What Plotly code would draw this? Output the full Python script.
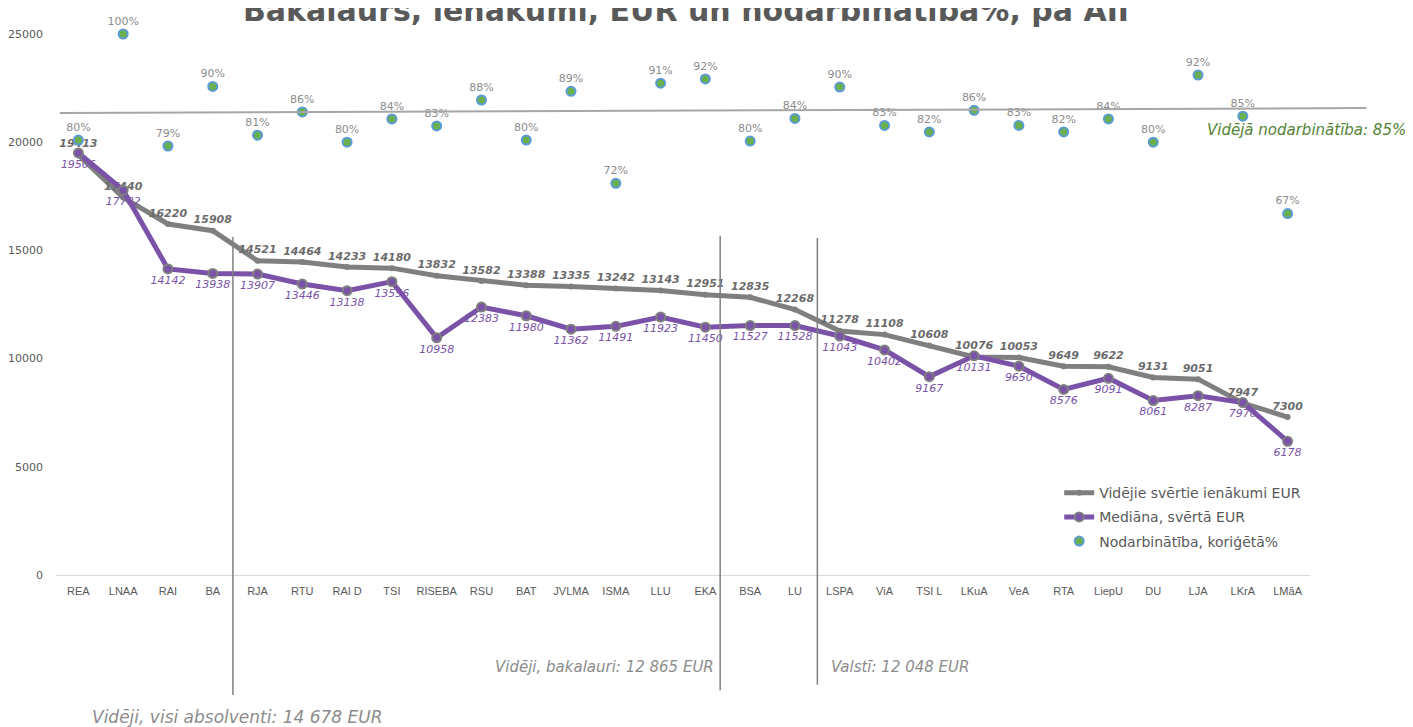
import plotly.graph_objects as go

categories = ["REA", "LNAA", "RAI", "BA", "RJA", "RTU", "RAI D", "TSI", "RISEBA", "RSU",
              "BAT", "JVLMA", "ISMA", "LLU", "EKA", "BSA", "LU", "LSPA", "ViA", "TSI L",
              "LKuA", "VeA", "RTA", "LiepU", "DU", "LJA", "LKrA", "LMāA"]

avg_income = [19413, 17440, 16220, 15908, 14521, 14464, 14233, 14180, 13832, 13582,
              13388, 13335, 13242, 13143, 12951, 12835, 12268, 11278, 11108, 10608,
              10076, 10053, 9649, 9622, 9131, 9051, 7947, 7300]

median_income = [19506, 17782, 14142, 13938, 13907, 13446, 13138, 13556, 10958, 12383,
                 11980, 11362, 11491, 11923, 11450, 11527, 11528, 11043, 10402, 9167,
                 10131, 9650, 8576, 9091, 8061, 8287, 7970, 6178]

employment = [0.804, 1.00, 0.793, 0.903, 0.813, 0.856, 0.800, 0.843, 0.830, 0.878,
              0.804, 0.894, 0.724, 0.909, 0.917, 0.802, 0.844, 0.902, 0.831, 0.819,
              0.859, 0.831, 0.819, 0.843, 0.800, 0.924, 0.848, 0.668]

avg_employment = 0.85
avg_all = "Vidēji, visi absolventi: 14 678 EUR"
avg_bach = "Vidēji, bakalauri: 12 865 EUR"
avg_country = "Valstī: 12 048 EUR"

GRAY = "#7f7f7f"
PURPLE = "#7a52a8"
TXT = "#595959"

fig = go.Figure()

fig.add_trace(go.Scatter(
    x=categories, y=avg_income, name="Vidējie svērtie ienākumi EUR",
    mode="lines+markers+text", legendgroup="a",
    line=dict(color=GRAY, width=5),
    marker=dict(color=GRAY, size=6),
    text=[str(v) for v in avg_income], textposition="top center",
    textfont=dict(family="DejaVu Sans", size=11, color="#6b6b6b", style="italic", weight="bold"),
    cliponaxis=False,
))

fig.add_trace(go.Scatter(
    x=categories, y=median_income, name="Mediāna, svērtā EUR",
    mode="lines+markers+text", legendgroup="b",
    line=dict(color=PURPLE, width=5),
    marker=dict(color=PURPLE, size=9, line=dict(color=GRAY, width=2)),
    text=[str(v) for v in median_income], textposition="bottom center",
    textfont=dict(family="DejaVu Sans", size=11, color=PURPLE, style="italic"),
    cliponaxis=False,
))

fig.add_trace(go.Scatter(
    x=categories, y=employment, name="Nodarbinātība, koriģētā%",
    mode="markers+text", yaxis="y2", legendgroup="c",
    marker=dict(color="#6ab04c", size=9, line=dict(color="#5b9bd5", width=2)),
    texttemplate="%{y:.0%}", textposition="top center",
    textfont=dict(family="DejaVu Sans", size=11, color="#8c8c8c"),
    cliponaxis=False,
))

# vertical separators for averages
for xv, y0, y1 in [(3.45, -0.222, 0.625), (14.33, -0.213, 0.627), (16.5, -0.203, 0.623)]:
    fig.add_shape(type="line", xref="x", yref="paper", x0=xv, x1=xv, y0=y0, y1=y1,
                  line=dict(color="#808080", width=1.5))

# average employment line
fig.add_shape(type="line", xref="paper", yref="y2", x0=0.003, x1=1.045,
              y0=avg_employment + 0.004, y1=avg_employment + 0.013,
              line=dict(color="#a6a6a6", width=2))

ann_font = dict(family="DejaVu Sans", size=15, color="#8c8c8c", style="italic")
fig.add_annotation(text=avg_bach, xref="x", yref="paper", x=14.24, y=-0.170,
                   xanchor="right", yanchor="middle", showarrow=False, font=ann_font)
fig.add_annotation(text=avg_country, xref="x", yref="paper", x=16.75, y=-0.170,
                   xanchor="left", yanchor="middle", showarrow=False, font=ann_font)
fig.add_annotation(text=avg_all, xref="paper", yref="paper", x=0.027, y=-0.262,
                   xanchor="left", yanchor="middle", showarrow=False,
                   font=dict(family="DejaVu Sans", size=17, color="#8c8c8c", style="italic"))
fig.add_annotation(text="Vidējā nodarbinātība: 85%", xref="paper", yref="paper",
                   x=1.078, y=0.823, xanchor="right", yanchor="middle", showarrow=False,
                   font=dict(family="DejaVu Sans", size=15, color="#548235", style="italic"))
fig.add_annotation(text="<b>Bakalaurs, ienākumi, EUR un nodarbinātība%, pa AII</b>",
                   xref="paper", yref="paper", x=0.502, y=1.044, xanchor="center",
                   yanchor="middle", showarrow=False,
                   font=dict(family="DejaVu Sans", size=30, color=TXT))

fig.update_layout(
    width=1405, height=719,
    margin=dict(l=48, r=103, t=26, b=152, autoexpand=False),
    paper_bgcolor="white", plot_bgcolor="white",
    showlegend=True,
    legend=dict(x=0.80, y=0.181, xanchor="left", yanchor="top",
                font=dict(family="DejaVu Sans", size=14, color=TXT),
                bgcolor="rgba(0,0,0,0)", tracegroupgap=3, itemwidth=30),
    xaxis=dict(type="category", categoryorder="array", categoryarray=categories,
               showgrid=False, showline=False, zeroline=False, ticks="",
               ticklabelstandoff=8, automargin=False,
               tickfont=dict(family="Liberation Sans Narrow, Liberation Sans", size=11, color=TXT),
               range=[-0.5, len(categories) - 0.5]),
    yaxis=dict(range=[0, 25000], tickvals=[0, 5000, 10000, 15000, 20000, 25000],
               tickformat="d", automargin=False,
               showgrid=False, zeroline=True, zerolinecolor="#d9d9d9", zerolinewidth=1,
               showline=False, ticks="", ticklabelstandoff=12,
               tickfont=dict(family="DejaVu Sans", size=11, color=TXT)),
    yaxis2=dict(range=[0, 1], overlaying="y", side="right", visible=False),
)

fig.write_html("out.html")
